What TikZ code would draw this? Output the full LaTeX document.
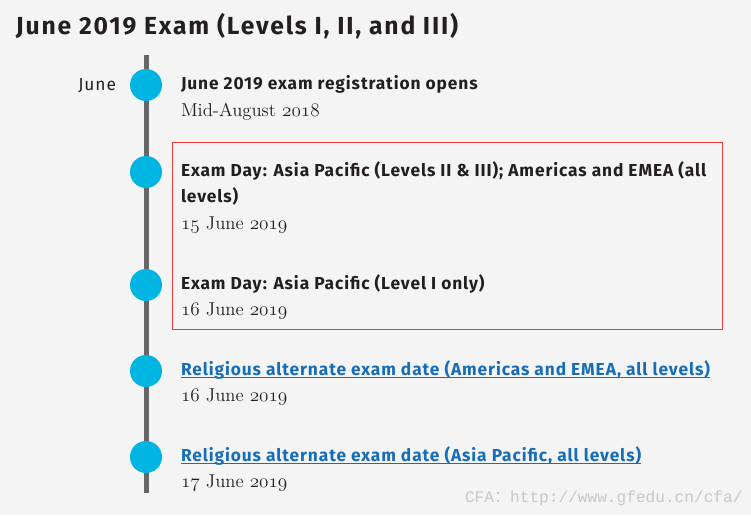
\documentclass[tikz,border=0pt]{standalone}
\usepackage{fontspec}
\newfontfamily\hd{Fira Sans}[LetterSpace=5.2]
\newfontfamily\hdt{Fira Sans}[LetterSpace=7.5]
\newfontfamily\wm{Liberation Mono}
\newfontfamily\cjkf{Noto Sans CJK SC}
\newcommand\osn[1]{$\mathnormal{#1}$}
\definecolor{bg}{HTML}{F4F4F4}
\definecolor{ink}{HTML}{231F20}
\definecolor{linegray}{HTML}{666666}
\definecolor{dotblue}{HTML}{00B5E2}
\definecolor{linkblue}{HTML}{166DB8}
\definecolor{boxred}{HTML}{F03A3A}
\definecolor{wmgray}{HTML}{C8C8C8}
\begin{document}
\begin{tikzpicture}[x=0.75pt,y=-0.75pt,
  every node/.style={inner sep=0pt,outer sep=0pt},
  hdtxt/.style={anchor=base west,font=\hd\bfseries\fontsize{13}{15}\selectfont,text=ink},
  datetxt/.style={anchor=base west,font=\fontsize{14}{16}\selectfont,text=ink},
  linktxt/.style={hdtxt,text=linkblue},
  uline/.style={draw=linkblue,line width=0.9pt},
  dot/.style={circle,fill=dotblue,minimum size=24pt},
]
\fill[bg] (0,0) rectangle (751,515);
\useasboundingbox (0,0) rectangle (751,515);

\node[anchor=base west,font=\hdt\bfseries\fontsize{18.5}{22}\selectfont,text=ink] (title) at (16,34) {June 2019 Exam (Levels I, II, and III)};

\coordinate (top) at (146,55);
\coordinate (bot) at (146,493);
\draw[line width=3.75pt,linegray] (top) -- (bot);

\node[dot] (d1) at (146,85) {};
\node[dot] (d2) at (146,172) {};
\node[dot] (d3) at (146,285) {};
\node[dot] (d4) at (146,371) {};
\node[dot] (d5) at (146,457) {};

\node[anchor=base east,font=\hd\fontsize{13}{14}\selectfont,text=ink] (june) at (116,90) {June};

\node[draw=boxred,line width=0.75pt,minimum width=412.5pt,minimum height=140.25pt] (redbox) at (447,235.5) {};

\node[hdtxt] (h1) at (181,89) {June 2019 exam registration opens};
\node[datetxt] (t1) at (181,116) {Mid-August \osn{2018}};

\node[hdtxt] (h2) at (181,176) {Exam Day: Asia Pacific (Levels II \& III); Americas and EMEA (all};
\node[hdtxt] (h2b) at (181,202) {levels)};
\node[datetxt] (t2) at (181,229) {\osn{15} June \osn{2019}};

\node[hdtxt] (h3) at (181,289) {Exam Day: Asia Pacific (Level I only)};
\node[datetxt] (t3) at (181,315) {\osn{16} June \osn{2019}};

\node[linktxt] (h4) at (181,375) {Religious alternate exam date (Americas and EMEA, all levels)};
\draw[uline] ([yshift=-1.8pt]h4.base west) -- ([yshift=-1.8pt]h4.base east);
\node[datetxt] (t4) at (181,401) {\osn{16} June \osn{2019}};

\node[linktxt] (h5) at (181,461) {Religious alternate exam date (Asia Pacific, all levels)};
\draw[uline] ([yshift=-1.8pt]h5.base west) -- ([yshift=-1.8pt]h5.base east);
\node[datetxt] (t5) at (181,487) {\osn{17} June \osn{2019}};

\node[anchor=base west,font=\wm\fontsize{12.1}{14}\selectfont,text=wmgray] (wm) at (465,502) {CFA{\cjkf ：}http://www.gfedu.cn/cfa/};
\end{tikzpicture}
\end{document}
